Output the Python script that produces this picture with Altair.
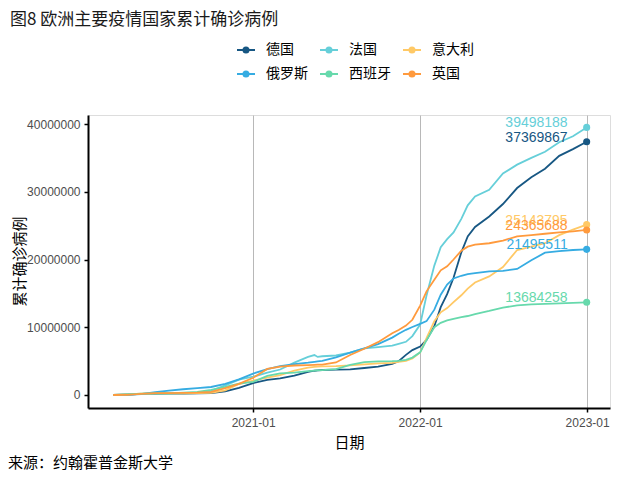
import altair as alt
import pandas as pd

dates = [
    "2020-03-01", "2020-04-01", "2020-05-01", "2020-06-01", "2020-07-01", "2020-08-01",
    "2020-09-01", "2020-10-01", "2020-11-01", "2020-12-01",
    "2021-01-01", "2021-02-01", "2021-03-01", "2021-04-01", "2021-05-01", "2021-05-15",
    "2021-05-22", "2021-06-01", "2021-07-01", "2021-08-01", "2021-09-01", "2021-10-01",
    "2021-11-01", "2021-11-15", "2021-12-01", "2021-12-15",
    "2022-01-01", "2022-01-15", "2022-02-01", "2022-02-15", "2022-03-01", "2022-03-15",
    "2022-04-01", "2022-04-15", "2022-05-01", "2022-06-01", "2022-07-01", "2022-08-01",
    "2022-09-01", "2022-10-01", "2022-11-01", "2022-12-01", "2022-12-31",
]

germany = [130, 72000, 163000, 183000, 195000, 210000, 245000, 292000, 532000, 1067000,
           1762000, 2228000, 2448000, 2870000, 3400000, 3580000, 3640000, 3687000, 3732000,
           3777000, 3983000, 4200000, 4600000, 5000000, 5920000, 6620000,
           7150000, 8130000, 10150000, 12970000, 14880000, 17300000, 21060000, 23420000,
           24810000, 26350000, 28190000, 30550000, 32150000, 33400000, 35300000, 36300000,
           37369867]
france = [130, 52000, 168000, 189000, 203000, 226000, 297000, 620000, 1418000, 2270000,
          2697000, 3290000, 3760000, 4770000, 5630000, 5890000, 5620000, 5720000, 5830000,
          6240000, 6870000, 7080000, 7290000, 7550000, 7850000, 8700000,
          10400000, 14700000, 19100000, 21800000, 23000000, 24000000, 26000000, 28000000,
          29300000, 30300000, 32700000, 34000000, 35000000, 35900000, 37300000, 38200000,
          39498188]
italy = [1700, 106000, 205000, 233000, 241000, 248000, 270000, 315000, 680000, 1620000,
         2130000, 2560000, 2940000, 3610000, 4030000, 4160000, 4190000, 4220000, 4260000,
         4360000, 4530000, 4680000, 4750000, 4900000, 5030000, 5400000,
         6270000, 8400000, 10900000, 12200000, 12830000, 13700000, 14720000, 15700000,
         16600000, 17500000, 18900000, 21400000, 21900000, 22400000, 23600000, 24400000,
         25143795]
russia = [3, 2800, 114000, 415000, 655000, 846000, 1000000, 1180000, 1640000, 2300000,
          3160000, 3830000, 4260000, 4570000, 4780000, 4900000, 4960000, 5040000, 5560000,
          6260000, 6870000, 7520000, 8470000, 9050000, 9620000, 10030000,
          10500000, 10900000, 12600000, 14800000, 16300000, 17200000, 17600000, 17850000,
          18000000, 18250000, 18320000, 18600000, 19900000, 21000000, 21250000, 21400000,
          21495511]
spain = [84, 95000, 213000, 240000, 250000, 335000, 462000, 770000, 1185000, 1665000,
         1930000, 2820000, 3190000, 3290000, 3510000, 3600000, 3630000, 3680000, 3810000,
         4450000, 4850000, 4950000, 5000000, 5050000, 5170000, 5520000,
         6300000, 8100000, 10000000, 10650000, 11000000, 11250000, 11500000, 11660000,
         11950000, 12400000, 12890000, 13230000, 13380000, 13440000, 13520000, 13600000,
         13684258]
uk = [36, 30000, 178000, 275000, 285000, 305000, 338000, 470000, 1030000, 1650000,
      2550000, 3850000, 4190000, 4350000, 4420000, 4450000, 4470000, 4490000, 4800000,
      5900000, 6820000, 7800000, 9110000, 9600000, 10250000, 11100000,
      13200000, 15300000, 17000000, 18400000, 19000000, 20000000, 21300000, 21900000,
      22200000, 22400000, 22800000, 23400000, 23600000, 23800000, 24000000, 24150000,
      24365688]

countries = ["德国", "法国", "意大利", "俄罗斯", "西班牙", "英国"]
colors = ["#175783", "#66cfd9", "#ffc966", "#36ace2", "#67d9ac", "#ff9a3d"]
series = [germany, france, italy, russia, spain, uk]
title_text = "图8 欧洲主要疫情国家累计确诊病例"
caption_text = "来源：约翰霍普金斯大学"

rows = []
for name, vals in zip(countries, series):
    for d, v in zip(dates, vals):
        rows.append({"date": d, "country": name, "cases": v, "label": str(v)})
df = pd.DataFrame(rows)
last = df[df["date"] == dates[-1]].copy()

FONT = "Liberation Sans, Noto Sans CJK SC"
CJK = "Noto Sans CJK SC"

color = alt.Color(
    "country:N",
    scale=alt.Scale(domain=countries, range=colors),
    legend=alt.Legend(
        orient="none", legendX=148, legendY=-75, direction="horizontal", columns=3,
        title=None, padding=0,
        symbolType="M-1,0L1,0M-0.28,0A0.28,0.28,0,1,1,0.28,0A0.28,0.28,0,1,1,-0.28,0"
                   "M-0.11,0A0.11,0.11,0,1,1,0.11,0A0.11,0.11,0,1,1,-0.11,0",
        symbolSize=324, symbolStrokeWidth=2, symbolOpacity=1,
        labelFont=CJK, labelFontSize=14, labelColor="#000000", labelOffset=10,
        columnPadding=8, rowPadding=7,
    ),
)

xscale = alt.Scale(
    type="utc",
    domain=[alt.DateTime(year=2020, month=1, date=6, utc=True),
            alt.DateTime(year=2023, month=2, date=20, utc=True)],
)
xaxis = alt.Axis(
    values=[alt.DateTime(year=y, month=1, date=1, utc=True) for y in (2021, 2022, 2023)],
    labelExpr="utcFormat(datum.value, '%Y-%m')", title="日期",
    grid=True, gridColor="#b8b8b8", gridWidth=1,
    domainColor="#000000", domainWidth=2, tickColor="#000000", tickWidth=1.5, tickSize=4,
    labelFont=FONT, labelFontSize=12, labelColor="#4d4d4d", labelPadding=5,
    titleFont=CJK, titleFontSize=15, titleFontWeight="normal", titleColor="#000000",
    titleX=261, titleY=34, titleBaseline="middle", titleAlign="center",
)
yscale = alt.Scale(domain=[-1920000, 41330000], nice=False, zero=False)
yaxis = alt.Axis(
    values=[0, 10000000, 20000000, 30000000, 40000000], format="d", title="累计确诊病例",
    grid=False,
    domainColor="#000000", domainWidth=2, tickColor="#000000", tickWidth=1.5, tickSize=4,
    labelFont=FONT, labelFontSize=12, labelColor="#4d4d4d", labelPadding=4,
    titleFont=CJK, titleFontSize=15, titleFontWeight="normal", titleColor="#000000",
    titleAngle=-90, titleX=-69, titleY=146, titleBaseline="middle", titleAlign="center",
)

base = alt.Chart(df)
lines = base.mark_line(strokeWidth=1.8).encode(
    x=alt.X("date:T", scale=xscale, axis=xaxis),
    y=alt.Y("cases:Q", scale=yscale, axis=yaxis),
    color=color,
    detail="country:N",
)
pts = alt.Chart(last).mark_point(filled=True, size=50, opacity=1).encode(
    x="date:T", y="cases:Q",
    color=alt.Color("country:N", scale=alt.Scale(domain=countries, range=colors), legend=None),
)
labels = alt.Chart(last).mark_text(align="right", baseline="middle", dx=-19, dy=-4,
                                   fontSize=14, font=FONT).encode(
    x="date:T", y="cases:Q", text="label:N",
    color=alt.Color("country:N", scale=alt.Scale(domain=countries, range=colors), legend=None),
)
title = alt.Chart(pd.DataFrame({"t": [title_text]})).mark_text(
    align="left", baseline="middle", fontSize=17, font=CJK, color="#1a1a1a"
).encode(x=alt.value(-78), y=alt.value(-95), text="t:N")
caption = alt.Chart(pd.DataFrame({"t": [caption_text]})).mark_text(
    align="left", baseline="middle", fontSize=15, font=CJK, color="#000000"
).encode(x=alt.value(-80), y=alt.value(348), text="t:N")

chart = alt.layer(lines, pts, labels, title, caption).properties(
    width=522, height=293,
    autosize=alt.AutoSizeParams(type="none"),
    padding={"left": 80, "top": 107, "right": 22, "bottom": 64},
).configure_view(stroke=None).configure(background="white")

chart.save("out.html", embed_options={"renderer": "svg", "actions": False})
